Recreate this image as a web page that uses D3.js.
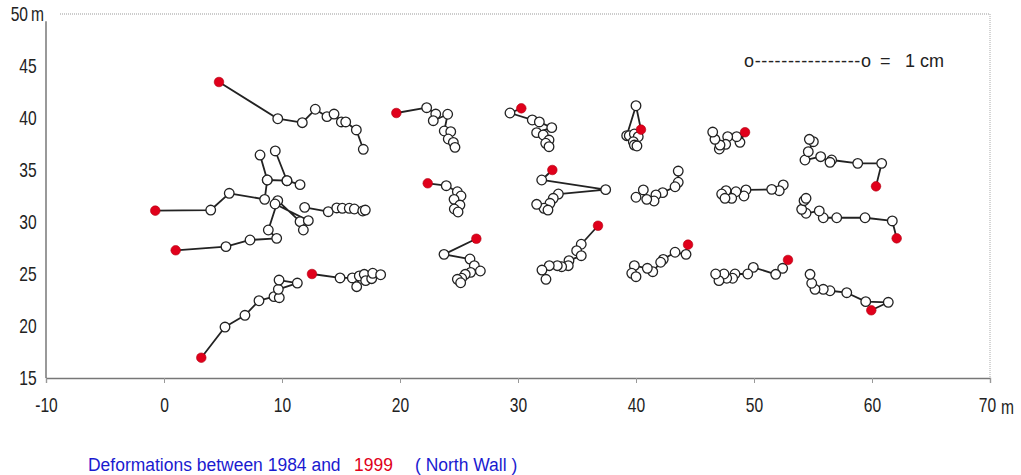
<!DOCTYPE html>
<html><head><meta charset="utf-8">
<script src="https://cdn.jsdelivr.net/npm/d3@7"></script>
<style>
body{margin:0;background:#fff;}
svg{display:block;}
</style></head><body>
<svg id="c" width="1021" height="475"></svg>
<script>
// axis ticks
const xTicks = [-10,0,10,20,30,40,50,60,70];
const yTicks = [15,20,25,30,35,40,45];
// trajectories: first point = 1999 position (red) when in redTracks
const trA = [[4.66,43.46],[9.64,39.93],[11.72,39.55],[12.82,40.84],[13.81,40.13],[14.41,40.38],[15.03,39.62],[15.40,39.62],[16.30,38.85],[16.89,36.99]];
const trB = [[19.69,40.48],[22.26,40.99],[23.03,40.38],[22.82,39.74],[24.04,40.36],[23.75,38.75],[24.30,38.68],[24.09,37.98],[24.52,37.66],[24.66,37.18]];
const trC = [[30.28,40.93],[29.32,40.48],[31.21,39.81],[31.81,39.62],[32.86,39.07],[31.58,38.59],[32.14,38.37],[32.63,37.88],[32.35,37.57],[32.63,37.24]];
const trD = [[40.42,38.88],[40.00,41.18],[39.21,38.30],[39.43,38.30],[39.86,38.46],[40.19,38.20],[39.77,37.72],[39.86,37.40],[40.08,37.31]];
const trE = [[49.24,38.63],[48.81,37.66],[48.53,38.20],[47.77,38.20],[47.60,37.47],[47.06,37.02],[47.12,37.40],[46.69,37.95],[46.50,38.65]];
const trF = [[60.34,33.43],[60.82,35.64],[58.79,35.64],[56.58,35.96],[56.44,35.74],[55.65,36.28],[54.32,35.96],[54.60,36.76],[55.03,37.72],[54.69,37.95]];
const trG = [[-0.74,31.09],[3.96,31.15],[5.53,32.76],[8.53,32.18],[8.75,34.04],[8.14,36.44]];
const trG2 = [[9.43,36.83],[10.42,33.97],[11.53,33.59]];
const trG3 = [[8.75,34.04],[10.42,33.97]];
const trH = [[0.99,27.28],[5.25,27.63],[7.29,28.27],[9.55,28.43],[8.84,29.23],[9.64,32.05],[11.53,30.03],[11.81,29.23],[12.23,30.13],[9.41,31.73]];
const trU = [[11.92,31.41],[13.92,30.99],[14.64,31.35],[15.11,31.32],[15.70,31.32],[16.13,31.25],[16.84,31.06],[17.06,31.15]];
const trI = [[22.35,33.72],[23.92,33.49],[24.86,32.91],[25.17,32.50],[24.58,32.18],[25.08,31.63],[24.60,31.25],[24.92,30.96]];
const trJ = [[32.91,35.00],[32.01,34.04],[37.43,33.11],[33.42,32.69],[32.99,32.28],[32.71,31.80],[32.20,31.32],[31.58,31.70],[32.54,31.15]];
const trK = [[43.58,34.90],[43.58,33.82],[43.31,33.39],[42.26,32.82],[41.69,32.60],[41.53,32.02],[40.91,32.18],[40.62,33.08],[40.00,32.38]];
const trL = [[52.48,33.56],[52.14,33.01],[51.50,33.14],[49.32,33.08],[49.15,32.50],[48.47,32.91],[48.11,32.28],[47.63,33.01],[47.26,32.69],[47.54,32.28]];
const trM = [[62.09,28.43],[61.72,30.10],[59.41,30.41],[57.01,30.41],[55.87,30.41],[55.53,31.06],[54.41,30.84],[54.04,31.22],[54.24,32.05],[54.41,32.28]];
const trN = [[3.16,16.95],[5.17,19.90],[6.86,21.03],[8.05,22.43],[9.32,22.82],[9.77,22.72],[9.69,23.53],[11.30,24.13],[9.75,24.42]];
const trO = [[12.54,25.00],[14.92,24.62],[15.96,24.62],[16.33,23.78],[16.55,24.81],[16.97,24.97],[17.09,24.36],[17.60,24.55],[17.69,25.07],[18.36,24.93]];
const trP = [[26.47,28.39],[23.73,26.89],[25.93,26.44],[26.30,25.80],[26.81,25.29],[25.99,25.16],[25.53,24.97],[25.23,24.59],[24.86,24.49],[25.14,24.16]];
const trQ = [[36.78,29.64],[35.36,27.86],[34.97,27.24],[35.36,26.76],[34.32,26.28],[34.26,25.80],[33.70,25.70],[33.33,25.80],[32.65,25.80],[32.03,25.38],[32.37,24.49]];
const trR = [[44.41,27.82],[44.24,26.89],[43.31,27.09],[42.31,26.41],[42.09,26.13],[41.42,25.22],[40.96,25.55],[39.86,25.80],[39.64,25.07],[40.00,24.74]];
const trS = [[52.88,26.35],[52.43,25.55],[51.84,24.97],[49.94,25.64],[49.47,25.00],[48.39,25.00],[48.19,24.59],[47.69,24.59],[47.46,25.00],[47.03,24.36],[46.75,25.00]];
const trT = [[59.94,21.51],[61.38,22.28],[59.47,22.34],[57.86,23.20],[56.44,23.39],[55.87,23.53],[55.17,23.53],[54.89,24.11],[54.75,24.97]];

const redTracks = [trA,trB,trC,trD,trE,trF,trG,trH,trI,trJ,trM,trN,trO,trP,trQ,trR,trS,trT];
const plainTracks = [trG2,trG3,trU,trK,trL];

const FONT = '"Liberation Sans",Arial,sans-serif';
const NARROW = "scale(0.78,1)";

const svg = d3.select("#c");
const x = d3.scaleLinear().domain([-10,70]).range([46,990]);
const y = d3.scaleLinear().domain([15,50]).range([378,14]);

// frame (top/right dotted gray)
svg.append("line").attr("x1",60).attr("x2",x(70)).attr("y1",y(50)).attr("y2",y(50))
  .attr("stroke","#999").attr("stroke-width",1).attr("stroke-dasharray","1,1");
svg.append("line").attr("x1",x(70)).attr("x2",x(70)).attr("y1",y(50)).attr("y2",y(15))
  .attr("stroke","#aaa").attr("stroke-width",1).attr("stroke-dasharray","1,1");

// x axis
const xa = svg.append("g").attr("transform",`translate(0,${y(15)})`)
  .call(d3.axisBottom(x).tickValues(xTicks).tickSize(5).tickFormat(d=>String(d)));
xa.select(".domain").attr("stroke","#777").attr("stroke-width",1.3);
xa.selectAll(".tick line").attr("stroke","#999");
xa.selectAll(".tick text").attr("dy","1.3em").attr("transform",NARROW)
  .style("font-size","20px").style("font-family",FONT).attr("fill","#222");
xa.select(".tick:last-of-type text").attr("x",-4);
svg.append("text").attr("transform",`translate(${x(70)+11},${y(15)+36}) ${NARROW}`)
  .style("font-size","20px").style("font-family",FONT).attr("fill","#222").text("m");

// y axis
const ya = svg.append("g").attr("transform",`translate(${x(-10)},0)`)
  .call(d3.axisLeft(y).tickValues(yTicks).tickSize(0).tickPadding(12).tickFormat(d=>String(d)));
ya.select(".domain").attr("stroke","#555").attr("stroke-width",1.2).attr("d",`M0,${y(49.3)}V${y(15)}`);
ya.selectAll(".tick text").attr("transform",NARROW).style("font-size","20px")
  .style("font-family",FONT).attr("fill","#222");
svg.append("text").attr("transform",`translate(${x(-10)-18},${y(50)+7}) ${NARROW}`).attr("text-anchor","end")
  .style("font-size","20px").style("font-family",FONT).attr("fill","#222").text("50");
svg.append("text").attr("transform",`translate(${x(-10)-15},${y(50)+7}) ${NARROW}`)
  .style("font-size","20px").style("font-family",FONT).attr("fill","#222").text("m");

const line = d3.line().x(d=>x(d[0])).y(d=>y(d[1])).curve(d3.curveLinear);
const all = redTracks.concat(plainTracks);
svg.append("g").selectAll("path").data(all).join("path")
  .attr("d",line).attr("fill","none").attr("stroke","#222").attr("stroke-width",1.8).attr("stroke-linejoin","round");

// open circles (earlier epochs)
const opens = [];
redTracks.forEach(t=>t.slice(1).forEach(p=>opens.push(p)));
plainTracks.forEach(t=>t.forEach(p=>opens.push(p)));
svg.append("g").selectAll("circle").data(opens).join("circle")
  .attr("cx",d=>x(d[0])).attr("cy",d=>y(d[1])).attr("r",4.8)
  .attr("fill","#fff").attr("stroke","#222").attr("stroke-width",1.3);
// 1999 points
svg.append("g").selectAll("circle").data(redTracks.map(t=>t[0])).join("circle")
  .attr("cx",d=>x(d[0])).attr("cy",d=>y(d[1])).attr("r",4.8)
  .attr("fill","#e0001b").attr("stroke","#b00010").attr("stroke-width",0.6);

// scale legend
const lg = svg.append("g").style("font-family",FONT).style("font-size","18px").attr("fill","#222");
lg.append("text").attr("x",744).attr("y",67).attr("textLength",127).attr("lengthAdjust","spacing").text("o----------------o");
lg.append("text").attr("x",880).attr("y",67).text("=");
lg.append("text").attr("x",905).attr("y",67).text("1 cm");

// caption
const capStyle = s=>s.style("font-family",FONT).style("font-size","19px");
const CAPN = "scale(0.92,1)";
svg.append("text").attr("transform",`translate(88,471) ${CAPN}`).attr("fill","#1a1ad0").call(capStyle)
  .text("Deformations between 1984 and");
svg.append("text").attr("transform",`translate(354,471) ${CAPN}`).attr("fill","#e0001b").call(capStyle)
  .text("1999");
svg.append("text").attr("transform",`translate(415,471) ${CAPN}`).attr("fill","#1a1ad0").call(capStyle)
  .text("( North Wall )");
</script>
</body></html>
